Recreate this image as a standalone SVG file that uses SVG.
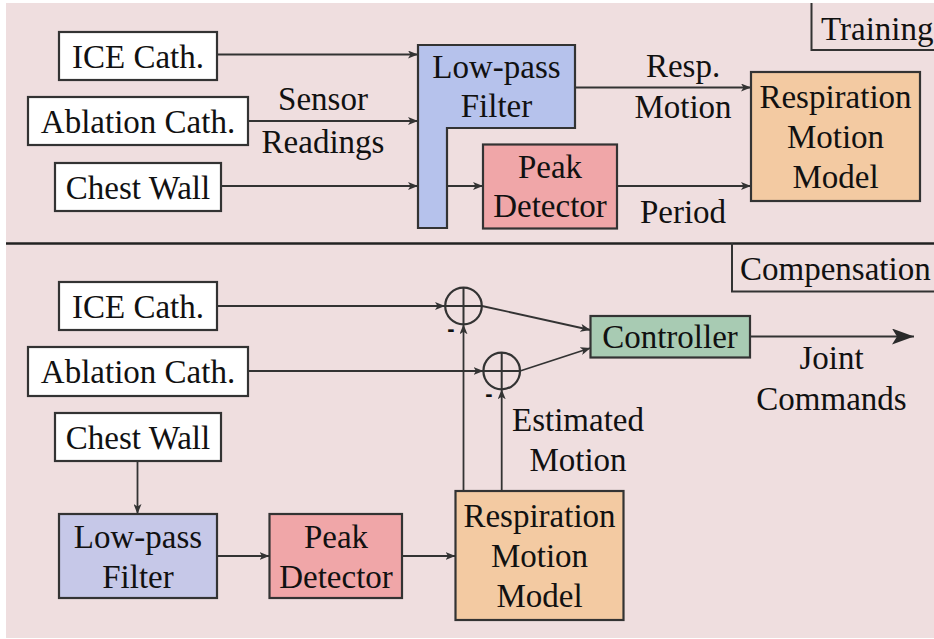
<svg xmlns="http://www.w3.org/2000/svg" width="934" height="639" viewBox="0 0 934 639">
<defs>
<marker id="ah" markerUnits="userSpaceOnUse" viewBox="0 0 10 8" refX="10" refY="4" markerWidth="10" markerHeight="8" orient="auto"><path d="M0,0 L10,4 L0,8 L2.5,4 z" fill="#333"/></marker>
<marker id="big" markerUnits="userSpaceOnUse" viewBox="0 0 22 16" refX="22" refY="8" markerWidth="22" markerHeight="16" orient="auto"><path d="M0,0 L22,8 L0,16 L5,8 z" fill="#2a2a2a"/></marker>
</defs>
<style>
text{font-family:"Liberation Serif","Times New Roman",serif;font-size:33px;fill:#111;text-anchor:middle}
.b{stroke:#333;stroke-width:2.2}
.w{fill:#fff}
.lp{fill:#b6c2ec}
.lp2{fill:#c6c8e8}
.pk{fill:#f0a6a8}
.rm{fill:#f3caa2}
.ct{fill:#a8cbb3}
.c line,.c path,.c polyline{stroke:#333;stroke-width:1.8;fill:none}
.a{marker-end:url(#ah)}
.s{fill:#efdedf;stroke:#333;stroke-width:2.2}
.st{text-anchor:start}
.m{font-family:"Liberation Sans",Arial,sans-serif;font-size:22px;font-weight:bold}
</style>
<rect x="6" y="3" width="928" height="635" fill="#efdedf"/>
<line x1="6" y1="243.5" x2="934" y2="243.5" stroke="#222" stroke-width="2.5"/>
<g id="training-label"><polyline points="811.5,3 811.5,50 934,50" fill="none" stroke="#333" stroke-width="2"/><text class="st" x="821" y="40">Training</text></g>
<g id="compensation-label"><polyline points="732,243 732,291.5 934,291.5" fill="none" stroke="#333" stroke-width="2"/><text class="st" x="740" y="280">Compensation</text></g>

<g class="c" id="connectors">
<line class="a" x1="217" y1="54.5" x2="418" y2="54.5"/>
<line class="a" x1="248" y1="121" x2="418" y2="121"/>
<line class="a" x1="221" y1="186" x2="418" y2="186"/>
<line class="a" x1="447" y1="186" x2="483" y2="186"/>
<line class="a" x1="575" y1="87.5" x2="751" y2="87.5"/>
<line class="a" x1="617" y1="186" x2="751" y2="186"/>
<line class="a" x1="217" y1="306" x2="445" y2="306"/>
<line class="a" x1="248" y1="371" x2="483.5" y2="371"/>
<line class="a" x1="463.5" y1="491" x2="463.5" y2="324.3"/>
<line class="a" x1="501.7" y1="491" x2="501.7" y2="389.3"/>
<line class="a" x1="482" y1="306" x2="590.5" y2="330"/>
<line class="a" x1="520" y1="371" x2="590.5" y2="348"/>
<line x1="750" y1="336.5" x2="914" y2="336.5" marker-end="url(#big)"/>
<line class="a" x1="137.5" y1="461" x2="137.5" y2="514"/>
<line class="a" x1="217" y1="556" x2="269.5" y2="556"/>
<line class="a" x1="402" y1="556" x2="455.5" y2="556"/>
</g>

<g id="t-ice"><rect class="b w" x="59" y="32" width="158" height="48"/><text x="138" y="67.5">ICE Cath.</text></g>
<g id="t-abl"><rect class="b w" x="28" y="97" width="220" height="48"/><text x="138" y="132.5">Ablation Cath.</text></g>
<g id="t-chest"><rect class="b w" x="55" y="163" width="166" height="48"/><text x="138" y="198.5">Chest Wall</text></g>
<g id="t-lpf"><path class="b lp" d="M418,45 H575 V128 H447 V228 H418 Z"/><text x="496.5" y="78">Low-pass</text><text x="496.5" y="117">Filter</text></g>
<g id="t-peak"><rect class="b pk" x="483" y="144.5" width="134" height="84"/><text x="550" y="177.5">Peak</text><text x="550" y="217">Detector</text></g>
<g id="t-rmm"><rect class="b rm" x="751" y="72" width="169" height="129"/><text x="835.5" y="107.5">Respiration</text><text x="835.5" y="147.5">Motion</text><text x="835.5" y="187.5">Model</text></g>
<g id="l-sensor"><text x="323" y="110">Sensor</text><text x="323" y="152.5">Readings</text></g>
<g id="l-resp"><text x="683" y="77">Resp.</text><text x="683" y="118">Motion</text></g>
<g id="l-period"><text x="683" y="222.5">Period</text></g>

<g id="c-ice"><rect class="b w" x="59" y="282" width="158" height="48"/><text x="138" y="317.5">ICE Cath.</text></g>
<g id="c-abl"><rect class="b w" x="28" y="347" width="220" height="49"/><text x="138" y="382.5">Ablation Cath.</text></g>
<g id="c-chest"><rect class="b w" x="55" y="413" width="166" height="48"/><text x="138" y="448.5">Chest Wall</text></g>
<g id="c-lpf"><rect class="b lp2" x="59" y="514" width="158" height="84"/><text x="138" y="547.5">Low-pass</text><text x="138" y="587.5">Filter</text></g>
<g id="c-peak"><rect class="b pk" x="269.5" y="514" width="132.5" height="84"/><text x="336" y="547.5">Peak</text><text x="336" y="587.5">Detector</text></g>
<g id="c-rmm"><rect class="b rm" x="455.5" y="491" width="168" height="129"/><text x="539.5" y="526.5">Respiration</text><text x="539.5" y="567">Motion</text><text x="539.5" y="607">Model</text></g>
<g id="sum1"><circle class="s" cx="463.5" cy="306" r="18.3"/><path d="M445.2,306 H481.8 M463.5,287.7 V324.3" stroke="#333" stroke-width="2"/><text class="m" x="451" y="336">-</text></g>
<g id="sum2"><circle class="s" cx="501.7" cy="371" r="18.3"/><path d="M483.4,371 H520 M501.7,352.7 V389.3" stroke="#333" stroke-width="2"/><text class="m" x="489" y="401">-</text></g>
<g id="ctrl"><rect class="b ct" x="590.5" y="316" width="159.5" height="41.5"/><text x="670" y="348">Controller</text></g>
<g id="l-est"><text x="578" y="430.5">Estimated</text><text x="578" y="470.5">Motion</text></g>
<g id="l-joint"><text x="831.5" y="369">Joint</text><text x="831.5" y="409.5">Commands</text></g>
</svg>
